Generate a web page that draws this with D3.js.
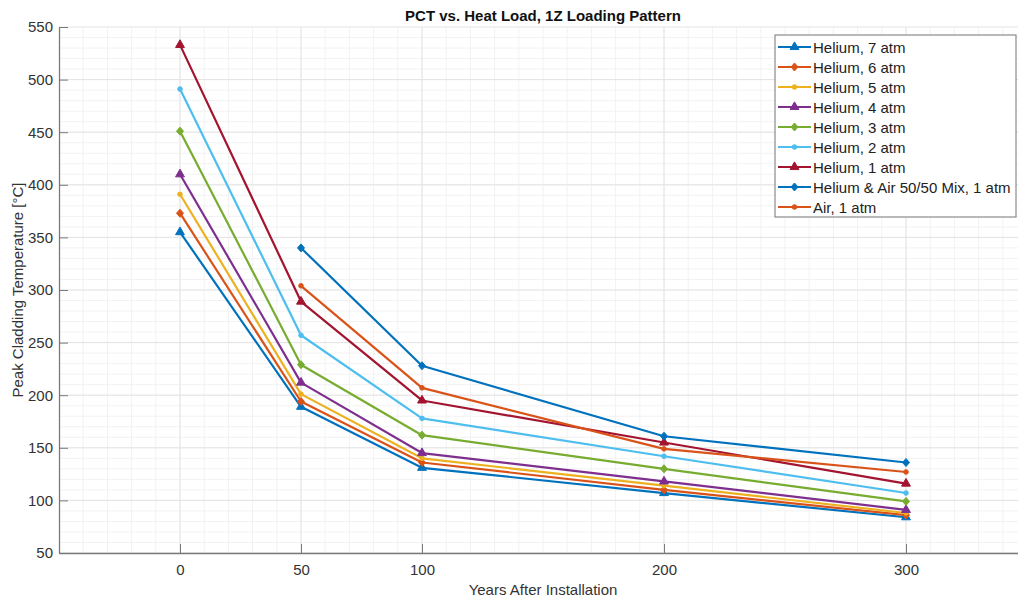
<!DOCTYPE html>
<html>
<head>
<meta charset="utf-8">
<script src="https://cdnjs.cloudflare.com/ajax/libs/d3/7.8.5/d3.min.js"></script>
<style>
  body { margin: 0; background: #fff; }
  text { font-family: "Liberation Sans", Arial, sans-serif; fill: #262626; }
</style>
</head>
<body>
<div id="chart"></div>
<script>

// data
var years = [0, 50, 100, 200, 300];
var seriesNames = ["Helium, 7 atm", "Helium, 6 atm", "Helium, 5 atm", "Helium, 4 atm", "Helium, 3 atm",
    "Helium, 2 atm", "Helium, 1 atm", "Helium & Air 50/50 Mix, 1 atm", "Air, 1 atm"];
var he7 = [355, 189, 131, 107, 84];
var he6 = [373, 194, 136, 110, 86];
var he5 = [391, 201, 140, 114, 88];
var he4 = [410, 212, 145, 118, 91];
var he3 = [451, 229, 162, 130, 99];
var he2 = [491, 257, 178, 142, 107];
var he1 = [533, 289, 195, 155, 116];
var mix = [null, 340, 228, 161, 136];
var air = [null, 304, 207, 149, 127];
var xTicks = [0, 50, 100, 200, 300];
var yTicks = [50, 100, 150, 200, 250, 300, 350, 400, 450, 500, 550];

var colors = ["#0072BD", "#D95319", "#EDB120", "#7E2F8E", "#77AC30", "#4DBEEE", "#A2142F", "#0072BD", "#D95319"];
var markers = ["triangle", "diamond", "dot", "triangle", "diamond", "dot", "triangle", "diamond", "dot"];
var allSeries = [he7, he6, he5, he4, he3, he2, he1, mix, air];

var margin = { top: 27, left: 59 };
var width = 968, height = 526;

var svg = d3.select("#chart").append("svg")
    .attr("width", 1018)
    .attr("height", 602);

var g = svg.append("g")
    .attr("transform", "translate(" + margin.left + "," + margin.top + ")");

var x = d3.scaleLinear().domain([-50, 350]).range([0, width]);
var y = d3.scaleLinear().domain([50, 550]).range([height, 0]);

// minor grid
g.selectAll(".xminor")
    .data(d3.range(-40, 350, 10))
    .enter().append("line")
    .attr("x1", function(d) { return x(d); })
    .attr("x2", function(d) { return x(d); })
    .attr("y1", 0).attr("y2", height)
    .style("stroke", "#f2f2f2")
    .style("stroke-width", 1);

g.selectAll(".yminor")
    .data(d3.range(60, 550, 10))
    .enter().append("line")
    .attr("x1", 0).attr("x2", width)
    .attr("y1", function(d) { return y(d); })
    .attr("y2", function(d) { return y(d); })
    .style("stroke", "#f2f2f2")
    .style("stroke-width", 1);

// major grid
g.selectAll(".xgrid")
    .data(xTicks)
    .enter().append("line")
    .attr("x1", function(d) { return x(d); })
    .attr("x2", function(d) { return x(d); })
    .attr("y1", 0).attr("y2", height)
    .style("stroke", "#e4e4e4");

g.selectAll(".ygrid")
    .data(yTicks)
    .enter().append("line")
    .attr("x1", 0).attr("x2", width)
    .attr("y1", function(d) { return y(d); })
    .attr("y2", function(d) { return y(d); })
    .style("stroke", "#e4e4e4");

// axes
var xAxis = d3.axisBottom(x).tickValues(xTicks).tickSizeInner(-9).tickSizeOuter(0).tickPadding(11);
var yAxis = d3.axisLeft(y).tickValues(yTicks).tickSizeInner(-9).tickSizeOuter(0).tickPadding(6);

var gx = g.append("g")
    .attr("transform", "translate(0," + height + ")")
    .call(xAxis);
var gy = g.append("g").call(yAxis);

[gx, gy].forEach(function(a) {
    a.select(".domain").style("stroke", "#7a7a7a").style("stroke-width", 1.3);
    a.selectAll(".tick line").style("stroke", "#7a7a7a");
    a.selectAll(".tick text")
        .style("font-family", "'Liberation Sans', Arial, sans-serif")
        .style("font-size", "15px")
        .style("fill", "#333");
});

// lines
var line = d3.line()
    .defined(function(d) { return d[1] != null; })
    .x(function(d) { return x(d[0]); })
    .y(function(d) { return y(d[1]); });

function drawMarker(sel, type, color) {
    if (type === "triangle") {
        sel.append("path").attr("d", d3.symbol().type(d3.symbolTriangle).size(34))
            .style("fill", color).style("stroke", color);
    } else if (type === "diamond") {
        sel.append("path").attr("d", "M0,-4L3.5,0L0,4L-3.5,0Z")
            .style("fill", color).style("stroke", color);
    } else {
        sel.append("circle").attr("r", 2.3)
            .style("fill", color).style("stroke", color);
    }
}

allSeries.forEach(function(vals, i) {
    var pts = years.map(function(yr, j) { return [yr, vals[j]]; });
    g.append("path")
        .datum(pts)
        .attr("d", line)
        .style("fill", "none")
        .style("stroke", colors[i])
        .style("stroke-width", 2.2)
        .style("stroke-linejoin", "round");

    pts.filter(function(d) { return d[1] != null; }).forEach(function(d) {
        var m = g.append("g").attr("transform", "translate(" + x(d[0]) + "," + y(d[1]) + ")");
        drawMarker(m, markers[i], colors[i]);
    });
});

// title and labels
svg.append("text")
    .attr("x", margin.left + width / 2)
    .attr("y", 21)
    .attr("text-anchor", "middle")
    .style("font-size", "15px")
    .style("font-weight", "bold")
    .style("fill", "#111")
    .text("PCT vs. Heat Load, 1Z Loading Pattern");

svg.append("text")
    .attr("x", margin.left + width / 2)
    .attr("y", 595)
    .attr("text-anchor", "middle")
    .style("font-size", "15px")
    .style("fill", "#333")
    .text("Years After Installation");

svg.append("text")
    .attr("transform", "translate(23," + (margin.top + height / 2) + ") rotate(-90)")
    .attr("text-anchor", "middle")
    .style("font-size", "15px")
    .style("fill", "#333")
    .text("Peak Cladding Temperature [°C]");

// legend
var legend = svg.append("g").attr("transform", "translate(775,35)");
legend.append("rect")
    .attr("width", 241).attr("height", 182)
    .style("fill", "#fff")
    .style("stroke", "#8a8a8a")
    .style("stroke-width", 1.2);

seriesNames.forEach(function(name, i) {
    var row = legend.append("g").attr("transform", "translate(0," + (12 + i * 20) + ")");
    row.append("line")
        .attr("x1", 3).attr("x2", 36)
        .style("stroke", colors[i])
        .style("stroke-width", 2.2);
    var m = row.append("g").attr("transform", "translate(19.5,0)");
    drawMarker(m, markers[i], colors[i]);
    row.append("text")
        .attr("x", 38)
        .attr("y", 5.5)
        .style("font-size", "15px")
        .style("fill", "#222")
        .text(name);
});

</script>
</body>
</html>
